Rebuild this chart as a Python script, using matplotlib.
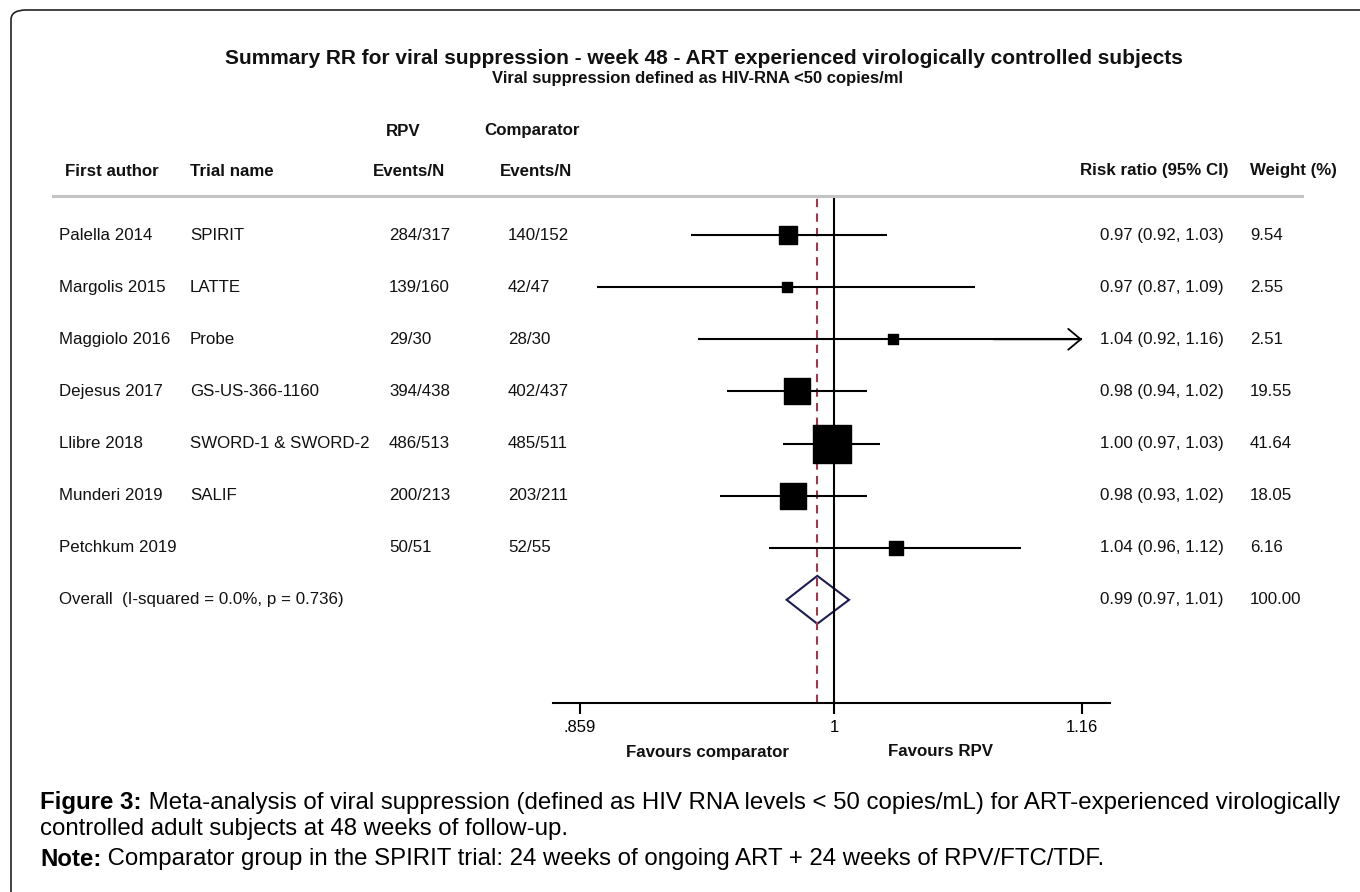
import matplotlib
matplotlib.use('Agg')
import matplotlib.pyplot as plt
from matplotlib.patches import Polygon, FancyBboxPatch
from matplotlib.text import Annotation
from matplotlib import transforms

plt.rcParams['font.family'] = ['Liberation Sans', 'DejaVu Sans']

authors = ['Palella 2014', 'Margolis 2015', 'Maggiolo 2016', 'Dejesus 2017',
           'Llibre 2018', 'Munderi 2019', 'Petchkum 2019']
trials = ['SPIRIT', 'LATTE', 'Probe', 'GS-US-366-1160',
          'SWORD-1 & SWORD-2', 'SALIF', '']
rpv_events = [284, 139, 29, 394, 486, 200, 50]
rpv_n = [317, 160, 30, 438, 513, 213, 51]
comp_events = [140, 42, 28, 402, 485, 203, 52]
comp_n = [152, 47, 30, 437, 511, 211, 55]
rr = [0.973, 0.972, 1.036, 0.978, 0.999, 0.976, 1.038]
rr_lo = [0.918, 0.868, 0.922, 0.938, 0.970, 0.934, 0.962]
rr_hi = [1.032, 1.088, 1.164, 1.020, 1.028, 1.020, 1.118]
weights = [9.54, 2.55, 2.51, 19.55, 41.64, 18.05, 6.16]

overall_label = 'Overall  (I-squared = 0.0%, p = 0.736)'
overall_rr, overall_lo, overall_hi = 0.990, 0.972, 1.009
overall_weight = 100.00

xticks = [0.859, 1, 1.16]
xticklabels = ['.859', '1', '1.16']

W, H = 1360, 892
fig = plt.figure(figsize=(W / 100, H / 100), dpi=100)

def fx(px):
    return px / W

def fy(py):
    return 1 - py / H

# frame around the figure (runs off right and bottom edges)
frame = FancyBboxPatch((fx(11), fy(930)), fx(1400), fy(10) - fy(930),
                       boxstyle='round,pad=0,rounding_size=0.011',
                       transform=fig.transFigure, fill=False, lw=1.2,
                       edgecolor='#222222')
fig.patches.append(frame)

# forest plot area
ax = fig.add_axes([fx(553), fy(703), fx(1110) - fx(553), fy(196) - fy(703)])
ax.set_xscale('log')
ax.set_xlim(0.8452, 1.1795)
ax.set_ylim(8.98, -0.75)
for s in ['top', 'left', 'right']:
    ax.spines[s].set_visible(False)
ax.spines['bottom'].set_linewidth(1.5)
ax.set_yticks([])
ax.set_xticks(xticks)
ax.set_xticklabels(xticklabels, fontsize=12)
ax.xaxis.set_minor_locator(matplotlib.ticker.NullLocator())
ax.tick_params(axis='x', length=8, width=1.5, pad=4)
ax.patch.set_alpha(0)

ax.axvline(1, color='black', lw=1.5)
ax.axvline(overall_rr, color='#9a3b4b', lw=1.5, ls=(0, (4, 3)))

xmax_show = 1.16
for i in range(len(rr)):
    if rr_hi[i] > xmax_show:
        ax.hlines(i, rr_lo[i], xmax_show, color='black', lw=1.5)
        ax.annotate('', xy=(xmax_show, i), xytext=(1.10, i),
                    arrowprops=dict(arrowstyle='->,head_length=0.9,head_width=0.75',
                                    lw=1.3, color='black', shrinkA=0, shrinkB=0))
    else:
        ax.hlines(i, rr_lo[i], rr_hi[i], color='black', lw=1.5)
    side_pt = 5.9 * weights[i] ** 0.5 * 0.72
    ax.scatter([rr[i]], [i], marker='s', s=side_pt ** 2, color='black', zorder=3)

yo = len(rr)
diamond = Polygon([(overall_lo, yo), (overall_rr, yo - 0.46),
                   (overall_hi, yo), (overall_rr, yo + 0.46)],
                  closed=True, fill=False, edgecolor='#1c1c50', lw=1.5)
ax.add_patch(diamond)

# table text
tr = transforms.blended_transform_factory(fig.transFigure, ax.transData)
fs = 12.2
col = '#111111'
for i in range(len(rr)):
    ax.text(fx(59), i, authors[i], transform=tr, fontsize=fs, va='center', color=col)
    ax.text(fx(190), i, trials[i], transform=tr, fontsize=fs, va='center', color=col)
    ax.text(fx(389), i, f'{rpv_events[i]}/{rpv_n[i]}', transform=tr, fontsize=fs, va='center', color=col)
    ax.text(fx(508), i, f'{comp_events[i]}/{comp_n[i]}', transform=tr, fontsize=fs, va='center', color=col)
    ax.text(fx(1100), i, f'{rr[i]:.2f} ({rr_lo[i]:.2f}, {rr_hi[i]:.2f})',
            transform=tr, fontsize=fs, va='center', color=col)
    ax.text(fx(1250), i, f'{weights[i]:.2f}', transform=tr, fontsize=fs, va='center', color=col)
ax.text(fx(59), yo, overall_label, transform=tr, fontsize=fs, va='center', color=col)
ax.text(fx(1100), yo, f'{overall_rr:.2f} ({overall_lo:.2f}, {overall_hi:.2f})',
        transform=tr, fontsize=fs, va='center', color=col)
ax.text(fx(1250), yo, f'{overall_weight:.2f}', transform=tr, fontsize=fs, va='center', color=col)

# headers
hb = dict(fontsize=fs, fontweight='bold', va='center', color=col)
fig.text(fx(65), fy(171), 'First author', **hb)
fig.text(fx(190), fy(171), 'Trial name', **hb)
fig.text(fx(403), fy(131), 'RPV', ha='center', **hb)
fig.text(fx(409), fy(171), 'Events/N', ha='center', **hb)
fig.text(fx(532), fy(131), 'Comparator', ha='center', **hb)
fig.text(fx(536), fy(171), 'Events/N', ha='center', **hb)
fig.text(fx(1228), fy(171), 'Risk ratio (95% CI)', ha='right', **hb)
fig.text(fx(1337), fy(171), 'Weight (%)', ha='right', **hb)
fig.add_artist(plt.Line2D([fx(53), fx(1302)], [fy(196), fy(196)],
                          color='#c4c4c4', lw=2.2, transform=fig.transFigure))

fig.text(fx(704), fy(58), 'Summary RR for viral suppression - week 48 - ART experienced virologically controlled subjects',
         ha='center', va='center', fontsize=15, fontweight='bold', color=col)
fig.text(fx(698), fy(78), 'Viral suppression defined as HIV-RNA <50 copies/ml',
         ha='center', va='center', fontsize=12, fontweight='bold', color=col)

fig.text(fx(708), fy(752), 'Favours comparator', ha='center', va='center',
         fontsize=fs, fontweight='bold', color=col)
fig.text(fx(940), fy(752), 'Favours RPV', ha='center', va='center',
         fontsize=fs, fontweight='bold', color=col)

# caption
cfs = 17.3
t1 = fig.text(fx(40), fy(802), 'Figure 3:', fontsize=cfs, fontweight='bold', va='center')
fig.add_artist(Annotation(
    ' Meta-analysis of viral suppression (defined as HIV RNA levels < 50 copies/mL) for ART-experienced virologically',
    xy=(1, 0), xycoords=t1, va='bottom', fontsize=cfs))
fig.text(fx(40), fy(829), 'controlled adult subjects at 48 weeks of follow-up.', fontsize=cfs, va='center')
t2 = fig.text(fx(40), fy(859), 'Note:', fontsize=cfs, fontweight='bold', va='center')
fig.add_artist(Annotation(
    ' Comparator group in the SPIRIT trial: 24 weeks of ongoing ART + 24 weeks of RPV/FTC/TDF.',
    xy=(1, 0), xycoords=t2, va='bottom', fontsize=cfs))

fig.savefig('out.png', dpi=100)
